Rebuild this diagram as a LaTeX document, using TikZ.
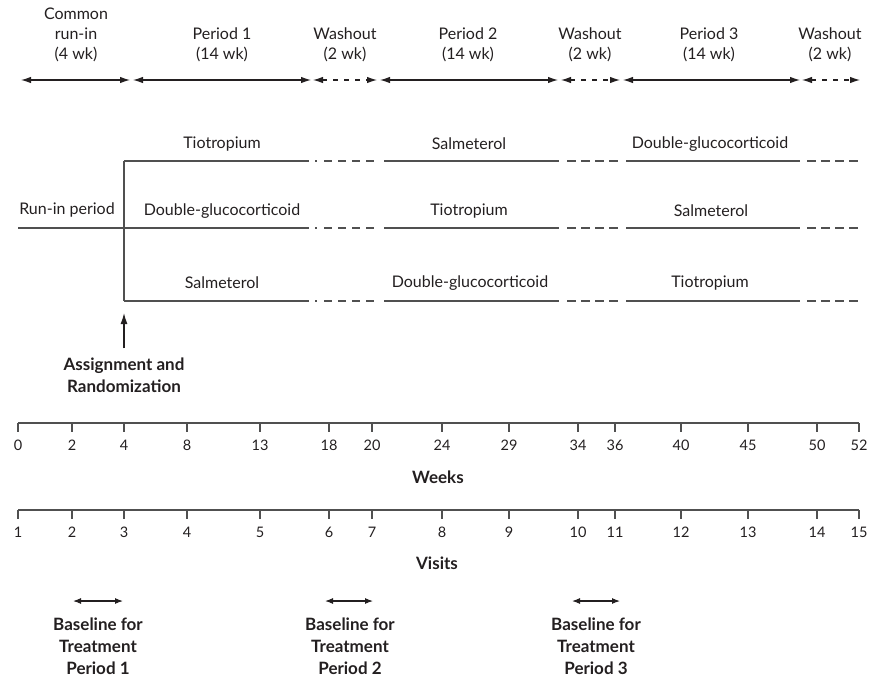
\documentclass[tikz,border=0pt]{standalone}
\usepackage{fontspec}
\setmainfont{Lato}
\usetikzlibrary{arrows.meta,positioning}
\definecolor{ink}{RGB}{35,31,32}
\definecolor{armgray}{RGB}{80,80,80}

\begin{document}
\begin{tikzpicture}[x=1pt,y=-1pt,
  lbl/.style={inner sep=0pt,align=center,text=ink,font=\fontsize{16}{20}\selectfont},
  num/.style={inner sep=0pt,text=ink,font=\fontsize{14.5}{16}\selectfont},
  boldlbl/.style={inner sep=0pt,align=center,text=ink,font=\fontsize{17}{22}\selectfont\bfseries},
  wkspan/.style={{Latex[length=10pt,width=6.5pt]}-{Latex[length=10pt,width=6.5pt]},line width=1.1pt,draw=ink},
  wash/.style={wkspan,dash pattern=on 5pt off 6pt},
  basespan/.style={{Latex[length=8pt,width=6pt]}-{Latex[length=8pt,width=6pt]},line width=1.1pt,draw=ink},
  armline/.style={line width=1.3pt,draw=armgray},
  armdot/.style={armline,dash pattern=on 2pt off 7pt on 8pt off 6pt on 8pt off 6pt on 8pt off 6pt on 8pt off 20pt},
  armdash/.style={armline,dash pattern=on 8.5pt off 5.5pt},
  axisline/.style={line width=1.3pt,draw=armgray},
  uparr/.style={-{Latex[length=11pt,width=7pt]},line width=1.3pt,draw=ink}
]
\useasboundingbox (0,0) rectangle (869,681);

% period header
\node[lbl] (cri) at (76,35) {Common\\run-in\\(4 wk)};
\node[lbl] (per1) at (222,45) {Period 1\\(14 wk)};
\node[lbl] (wo1) at (345,45) {Washout\\(2 wk)};
\node[lbl] (per2) at (468,45) {Period 2\\(14 wk)};
\node[lbl] (wo2) at (590,45) {Washout\\(2 wk)};
\node[lbl] (per3) at (709,45) {Period 3\\(14 wk)};
\node[lbl] (wo3) at (830,45) {Washout\\(2 wk)};

\coordinate (h0) at (21,80);  \coordinate (h1) at (130,80);
\coordinate (h2) at (133,80); \coordinate (h3) at (311,80);
\coordinate (h4) at (313,80); \coordinate (h5) at (377,80);
\coordinate (h6) at (380,80); \coordinate (h7) at (558,80);
\coordinate (h8) at (561,80); \coordinate (h9) at (620,80);
\coordinate (h10) at (623,80); \coordinate (h11) at (800,80);
\coordinate (h12) at (802,80); \coordinate (h13) at (860,80);
\draw[wkspan] (h0) -- (h1);
\draw[wkspan] (h2) -- (h3);
\draw[wash] (h4) -- (h5);
\draw[wkspan] (h6) -- (h7);
\draw[wash] (h8) -- (h9);
\draw[wkspan] (h10) -- (h11);
\draw[wash] (h12) -- (h13);

% treatment arms
\foreach \r/\y in {t/161,m/228,b/301} {
  \coordinate (\r0) at (124,\y); \coordinate (\r1) at (309,\y);
  \coordinate (\r2) at (384,\y); \coordinate (\r3) at (559,\y);
  \coordinate (\r4) at (626,\y); \coordinate (\r5) at (800,\y);
  \coordinate (\r6) at (860,\y);
  \draw[armline] (\r0) -- (\r1);
  \draw[armdot] ([xshift=6pt]\r1) -- ([xshift=-9pt]\r2);
  \draw[armline] (\r2) -- (\r3);
  \draw[armdash] ([xshift=8pt]\r3) -- ([xshift=-7pt]\r4);
  \draw[armline] (\r4) -- (\r5);
  \draw[armdash] ([xshift=7pt]\r5) -- (\r6);
}
\coordinate (run) at (18,228);
\draw[armline] (run) -- (m0);
\draw[armline] (t0) -- (b0);

\node[lbl] (runin) at (67,210) {Run-in period};
\node[lbl] (t1lbl) at (222,144) {Tiotropium};
\node[lbl] (m1lbl) at (222,211) {Double-glucocorticoid};
\node[lbl] (b1lbl) at (222,283) {Salmeterol};
\node[lbl] (t2lbl) at (469,144) {Salmeterol};
\node[lbl] (m2lbl) at (469,211) {Tiotropium};
\node[lbl] (b2lbl) at (470,283) {Double-glucocorticoid};
\node[lbl] (t3lbl) at (710,144) {Double-glucocorticoid};
\node[lbl] (m3lbl) at (711,211) {Salmeterol};
\node[lbl] (b3lbl) at (710,283) {Tiotropium};

% randomization
\node[boldlbl] (rand) at (124,375) {Assignment and\\Randomization};
\coordinate (randtip) at (124,313);
\draw[uparr] ([yshift=9pt]rand.north) -- (randtip);

% weeks and visits axes
\coordinate (wk0) at (18,423); \coordinate (wk1) at (859,423);
\coordinate (vs0) at (18,510); \coordinate (vs1) at (859,510);
\draw[axisline] (wk0) -- (wk1);
\draw[axisline] (vs0) -- (vs1);
\foreach \x/\w/\v in {18/0/1,72/2/2,124/4/3,187/8/4,260/13/5,329/18/6,372/20/7,
    442/24/8,509/29/9,578/34/10,615/36/11,681/40/12,748/45/13,817/50/14,859/52/15} {
  \draw[axisline] (\x,423) -- (\x,432);
  \node[num] at (\x,445) {\w};
  \draw[axisline] (\x,510) -- (\x,519);
  \node[num] at (\x,532) {\v};
}
\node[boldlbl] (weeks) at (438,477) {Weeks};
\node[boldlbl] (visits) at (437,563) {Visits};

% baselines
\coordinate (bl1a) at (73,601);  \coordinate (bl1b) at (123,601);
\coordinate (bl2a) at (325,601); \coordinate (bl2b) at (373,601);
\coordinate (bl3a) at (572,601); \coordinate (bl3b) at (620,601);
\draw[basespan] (bl1a) -- (bl1b);
\draw[basespan] (bl2a) -- (bl2b);
\draw[basespan] (bl3a) -- (bl3b);
\node[boldlbl] (base1) at (98,646) {Baseline for\\Treatment\\Period 1};
\node[boldlbl] (base2) at (350,646) {Baseline for\\Treatment\\Period 2};
\node[boldlbl] (base3) at (596,646) {Baseline for\\Treatment\\Period 3};
\end{tikzpicture}
\end{document}
